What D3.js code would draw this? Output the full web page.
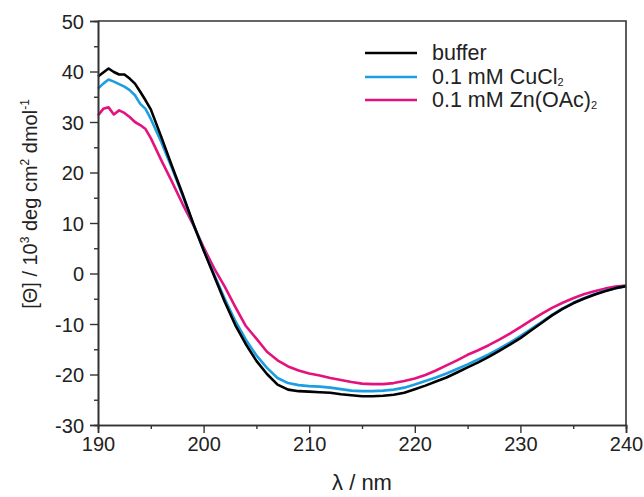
<!DOCTYPE html>
<html>
<head>
<meta charset="utf-8">
<script src="https://cdn.jsdelivr.net/npm/d3@7"></script>
<style>
    body { margin: 0; background: #fff; }
    svg { font-family: "Liberation Sans", Arial, sans-serif; }
    .tick text { font-size: 20px; fill: #222; }
</style>
</head>
<body>
<div class="svg"></div>
<script>
// wavelength (nm)
var wavelength = [190, 190.5, 191, 191.5, 192, 192.5, 193, 193.5, 194, 194.5,
    195, 196, 197, 198, 199, 200, 201, 202, 203, 204, 205, 206, 207, 208, 209,
    210, 211, 212, 213, 214, 215, 216, 217, 218, 219, 220, 221, 222, 223, 224,
    225, 226, 227, 228, 229, 230, 231, 232, 233, 234, 235, 236, 237, 238, 239, 240];

// [Θ] / 10^3 deg cm2 dmol-1
var buffer = [39.0, 39.8, 40.6, 39.9, 39.4, 39.4, 38.6, 37.6, 36.0, 34.3,
    32.5, 27.0, 21.3, 15.8, 10.0, 4.6, -0.5, -5.6, -10.2, -14.0, -17.3, -19.9, -22.0, -23.0, -23.3,
    -23.4, -23.5, -23.6, -23.9, -24.1, -24.3, -24.3, -24.2, -24.0, -23.6, -22.9, -22.2, -21.4, -20.6, -19.6,
    -18.6, -17.6, -16.5, -15.3, -14.1, -12.8, -11.3, -9.8, -8.3, -7.0, -5.9, -5.0, -4.2, -3.5, -2.9, -2.5];

var cucl2 = [36.6, 37.6, 38.4, 38.0, 37.5, 37.0, 36.3, 35.3, 33.6, 32.6,
    30.6, 26.0, 20.9, 15.5, 9.9, 4.7, -0.2, -5.0, -9.4, -13.1, -16.2, -18.7, -20.7, -21.7, -22.1,
    -22.3, -22.4, -22.6, -22.9, -23.2, -23.3, -23.3, -23.2, -23.0, -22.6, -22.0, -21.3, -20.6, -19.8, -18.9,
    -18.0, -17.0, -16.0, -14.9, -13.7, -12.4, -11.0, -9.6, -8.2, -6.9, -5.8, -4.9, -4.1, -3.4, -2.9, -2.5];

var znoac2 = [31.3, 32.6, 32.9, 31.5, 32.3, 31.8, 31.0, 30.0, 29.4, 28.6,
    26.8, 22.4, 18.2, 13.8, 9.7, 5.2, 1.0, -2.6, -6.6, -10.4, -12.9, -15.5, -17.2, -18.4, -19.2,
    -19.8, -20.2, -20.7, -21.1, -21.5, -21.8, -21.9, -21.9, -21.7, -21.3, -20.8, -20.1, -19.2, -18.2, -17.2,
    -16.1, -15.2, -14.2, -13.1, -11.9, -10.6, -9.3, -8.0, -6.8, -5.8, -4.9, -4.1, -3.5, -3.0, -2.6, -2.4];

var seriesNames = ["buffer", "0.1 mM CuCl", "0.1 mM Zn(OAc)"];
var seriesSubs = ["", "2", "2"];
var seriesColors = ["#000000", "#1b9ee2", "#e5127d"];
var xTicks = [190, 200, 210, 220, 230, 240];
var yTicks = [-30, -20, -10, 0, 10, 20, 30, 40, 50];

var width = 644,
    height = 497,
    margin = {top: 21, right: 18, bottom: 72, left: 98};

var svg = d3.select(".svg").append("svg")
    .attr("width", width)
    .attr("height", height);

var x = d3.scaleLinear()
    .domain([190, 240])
    .range([margin.left, width - margin.right]);

var y = d3.scaleLinear()
    .domain([-30, 50])
    .range([height - margin.bottom, margin.top]);

var series = [buffer, cucl2, znoac2];

var line = d3.line()
    .x(function (d, i) {
        return x(wavelength[i]);
    })
    .y(function (d) {
        return y(d);
    });

// pink, blue, then black on top
[2, 1, 0].forEach(function (k) {
    svg.append("path")
        .datum(series[k])
        .attr("fill", "none")
        .attr("stroke", seriesColors[k])
        .attr("stroke-width", 2.6)
        .attr("stroke-linejoin", "round")
        .attr("d", line);
});

// plain hyphen minus like the original figure
function plain(d) {
    return String(d);
}

// minor ticks
var xMinor = d3.axisBottom(x).tickValues(d3.range(195, 240, 10)).tickSize(4).tickFormat("");
var yMinor = d3.axisLeft(y).tickValues(d3.range(-25, 50, 10)).tickSize(4).tickFormat("");

svg.append("g")
    .attr("transform", "translate(0," + y(-30) + ")")
    .call(xMinor);
svg.append("g")
    .attr("transform", "translate(" + x(190) + ",0)")
    .call(yMinor);

var xAxis = svg.append("g")
    .attr("transform", "translate(0," + y(-30) + ")")
    .call(d3.axisBottom(x).tickValues(xTicks).tickFormat(plain).tickSize(8).tickPadding(6));

var yAxis = svg.append("g")
    .attr("transform", "translate(" + x(190) + ",0)")
    .call(d3.axisLeft(y).tickValues(yTicks).tickFormat(plain).tickSize(8).tickPadding(6));

svg.selectAll(".domain").attr("stroke", "#333").attr("stroke-width", 1.6);
svg.selectAll(".tick line").attr("stroke", "#333").attr("stroke-width", 1.4);
svg.selectAll(".tick text").attr("fill", "#222").style("font-family", "Liberation Sans, Arial, sans-serif");
xAxis.selectAll(".tick text").attr("dy", "0.62em");
yAxis.selectAll(".tick text").attr("dy", "0.36em");

// top and right frame
svg.append("path")
    .attr("fill", "none")
    .attr("stroke", "#333")
    .attr("stroke-width", 1.6)
    .attr("d", "M" + x(190) + "," + y(50) + "H" + x(240) + "V" + y(-30));

// axis titles
svg.append("text")
    .attr("x", (x(190) + x(240)) / 2)
    .attr("y", 490)
    .attr("text-anchor", "middle")
    .attr("font-size", 22)
    .attr("fill", "#222")
    .text("λ / nm");

var ylab = svg.append("text")
    .attr("transform", "translate(37,204) rotate(-90)")
    .attr("text-anchor", "middle")
    .attr("font-size", 20)
    .attr("fill", "#222");
ylab.append("tspan").text("[Θ] / 10");
ylab.append("tspan").attr("font-size", 12).attr("dy", -8).text("3");
ylab.append("tspan").attr("dy", 8).text(" deg cm");
ylab.append("tspan").attr("font-size", 12).attr("dy", -8).text("2");
ylab.append("tspan").attr("dy", 8).text(" dmol");
ylab.append("tspan").attr("font-size", 12).attr("dy", -8).text("-1");

// legend
var legend = svg.append("g");
var rowY = [53, 77, 100];

seriesNames.forEach(function (name, i) {
    legend.append("line")
        .attr("x1", 365).attr("x2", 417)
        .attr("y1", rowY[i]).attr("y2", rowY[i])
        .attr("stroke", seriesColors[i])
        .attr("stroke-width", 2.6);
    var t = legend.append("text")
        .attr("x", 432)
        .attr("y", rowY[i] + 7)
        .attr("font-size", 21.5)
        .attr("fill", "#222");
    t.append("tspan").text(name);
    if (seriesSubs[i]) {
        t.append("tspan").attr("font-size", 11).attr("dy", 2).text(seriesSubs[i]);
    }
});
</script>
</body>
</html>
